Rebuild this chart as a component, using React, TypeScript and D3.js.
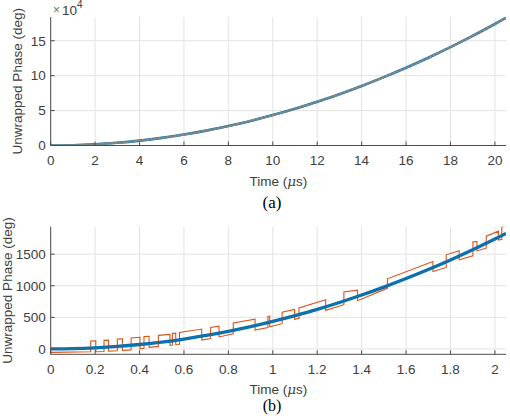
import React from "react";
import * as d3 from "d3";

// ---------- data ----------
const topTimes = [0, 1, 2, 3, 4, 5, 6, 7, 8, 9, 10, 11, 12, 13, 14, 15, 16, 17, 18, 19, 20, 20.5];
const topPhase = [0, 435, 1740, 3915, 6960, 10875, 15660, 21315, 27840, 35235, 43500, 52635, 62640, 73515, 85260, 97875, 111360, 125715, 140940, 157035, 174000, 182800];
const topXTicks = [0, 2, 4, 6, 8, 10, 12, 14, 16, 18, 20];
const topYTicks = [0, 50000, 100000, 150000];
const topYTickLabels = ["0", "5", "10", "15"];

const botTimes = [0, 0.1, 0.2, 0.3, 0.4, 0.5, 0.6, 0.7, 0.8, 0.9, 1.0, 1.1, 1.2, 1.3, 1.4, 1.5, 1.6, 1.7, 1.8, 1.9, 2.0, 2.05];
const botPhase = [0, 4, 17, 39, 70, 109, 157, 213, 278, 352, 435, 526, 626, 735, 853, 979, 1114, 1257, 1409, 1570, 1740, 1828];

const quantTimes = [
  0, 0.18, 0.18, 0.203, 0.203, 0.24, 0.24, 0.26, 0.26, 0.3, 0.3, 0.323, 0.323, 0.362, 0.362, 0.402, 0.402, 0.42,
  0.42, 0.443, 0.443, 0.485, 0.485, 0.537, 0.537, 0.548, 0.548, 0.563, 0.563, 0.58, 0.58, 0.68, 0.68, 0.72,
  0.72, 0.758, 0.758, 0.822, 0.822, 0.92, 0.92, 0.978, 0.978, 0.986, 0.986, 1.042, 1.042, 1.098, 1.098, 1.118,
  1.118, 1.238, 1.238, 1.32, 1.32, 1.381, 1.381, 1.516, 1.516, 1.721, 1.721, 1.781, 1.781, 1.839, 1.839, 1.901,
  1.901, 1.919, 1.919, 1.961, 1.961, 2.016, 2.016, 2.031, 2.031, 2.05,
];
const quantPhase = [
  -55, -45, 125, 128, -45, -40, 136, 140, -35, -30, 155, 160, -25, -15, 173, 184, 5, 10,
  195, 200, 25, 40, 215, 230, 55, 60, 245, 250, 70, 75, 262, 315, 140, 165,
  340, 360, 190, 240, 410, 470, 300, 340, 515, 520, 350, 400, 580, 625, 470, 485,
  650, 780, 610, 700, 900, 930, 762, 960, 1110, 1385, 1224, 1290, 1490, 1555, 1410, 1475,
  1695, 1700, 1555, 1595, 1785, 1865, 1724, 1735, 1930, 1955,
];
const botXTicks = [0, 0.2, 0.4, 0.6, 0.8, 1, 1.2, 1.4, 1.6, 1.8, 2];
const botXTickLabels = ["0", "0.2", "0.4", "0.6", "0.8", "1", "1.2", "1.4", "1.6", "1.8", "2"];
const botYTicks = [0, 500, 1000, 1500];
const botYTickLabels = ["0", "500", "1000", "1500"];

const FONT = "'Liberation Sans', Arial, Helvetica, sans-serif";
const SERIF = "'Liberation Serif', 'Times New Roman', serif";
const TXT = "#404040";
const AX = "#4d4d4d";
const GRID = "#e3e3e3";
const FS = 13.5;

type Pt = [number, number];

function Axes(props: {
  top: number; bottom: number; left: number; right: number;
  xDomain: [number, number]; yDomain: [number, number];
  xTicks: number[]; xLabels: string[]; yTicks: number[]; yLabels: string[];
  id: string; ylabelX: number; children: (x: d3.ScaleLinear<number, number>, y: d3.ScaleLinear<number, number>) => React.ReactNode;
}) {
  const { top, bottom, left, right } = props;
  const x = d3.scaleLinear().domain(props.xDomain).range([left, right]);
  const y = d3.scaleLinear().domain(props.yDomain).range([bottom, top]);
  return (
    <g>
      <defs>
        <clipPath id={props.id}>
          <rect x={left} y={top} width={right - left} height={bottom - top} />
        </clipPath>
      </defs>
      {props.xTicks.map((t, i) => (
        <line key={"gx" + i} x1={x(t)} x2={x(t)} y1={top} y2={bottom} stroke={GRID} strokeWidth={1} />
      ))}
      {props.yTicks.map((t, i) => (
        <line key={"gy" + i} x1={left} x2={right} y1={y(t)} y2={y(t)} stroke={GRID} strokeWidth={1} />
      ))}
      <g clipPath={`url(#${props.id})`}>{props.children(x, y)}</g>
      <line x1={left} x2={right} y1={bottom} y2={bottom} stroke={AX} strokeWidth={1} />
      <line x1={left} x2={left} y1={top} y2={bottom} stroke={AX} strokeWidth={1} />
      {props.xTicks.map((t, i) => (
        <g key={"tx" + i}>
          <line x1={x(t)} x2={x(t)} y1={bottom} y2={bottom - 4} stroke={AX} strokeWidth={1} />
          <text x={x(t)} y={bottom + 19.5} textAnchor="middle" fontFamily={FONT} fontSize={FS} fill={TXT}>
            {props.xLabels[i]}
          </text>
        </g>
      ))}
      {props.yTicks.map((t, i) => (
        <g key={"ty" + i}>
          <line x1={left} x2={left + 4} y1={y(t)} y2={y(t)} stroke={AX} strokeWidth={1} />
          <text x={left - 5} y={y(t) + 4.8} textAnchor="end" fontFamily={FONT} fontSize={FS} fill={TXT}>
            {props.yLabels[i]}
          </text>
        </g>
      ))}
      <text x={(left + right) / 2} y={bottom + 40} textAnchor="middle" fontFamily={FONT} fontSize={FS} fill={TXT}>
        Time (<tspan fontStyle="italic" fontFamily="'DejaVu Serif', serif">μ</tspan>s)
      </text>
      <text
        transform={`translate(${props.ylabelX},${(top + bottom) / 2}) rotate(-90)`}
        textAnchor="middle" fontFamily={FONT} fontSize={FS} fill={TXT}
      >
        Unwrapped Phase (deg)
      </text>
    </g>
  );
}

export default function App() {
  const L = 50.7, R = 506;
  const topPts: Pt[] = topTimes.map((t, i) => [t, topPhase[i]]);
  const botPts: Pt[] = botTimes.map((t, i) => [t, botPhase[i]]);
  const qPts: Pt[] = quantTimes.map((t, i) => [t, quantPhase[i]]);
  return (
    <svg width={510} height={416} style={{ position: "absolute", left: 0, top: 0, background: "#fff" }}>
      <rect width={510} height={416} fill="#fff" />
      <Axes
        id="clipA" top={17} bottom={145.5} left={L} right={R}
        xDomain={[0, 20.5]} yDomain={[0, 184000]}
        xTicks={topXTicks} xLabels={topXTicks.map(String)}
        yTicks={topYTicks} yLabels={topYTickLabels} ylabelX={22}
      >
        {(x, y) => {
          const line = d3.line<Pt>().x((d) => x(d[0])).y((d) => y(d[1])).curve(d3.curveCatmullRom);
          const p = line(topPts) || "";
          return (
            <g fill="none">
              <path d={p} stroke="#0072BD" strokeWidth={2.6} />
              <path d={p} stroke="#7f8f6a" strokeWidth={2.2} strokeDasharray="2 2" />
              <path d={p} stroke="#8a8a8a" strokeWidth={1.8} opacity={0.75} />
            </g>
          );
        }}
      </Axes>
      <text x={53} y={14} fontFamily={FONT} fontSize={12} fill="#707070">×</text>
      <text x={62} y={15} fontFamily={FONT} fontSize={FS} fill={TXT}>
        10<tspan dy={-7} fontSize={10}>4</tspan>
      </text>
      <text x={272} y={208} textAnchor="middle" fontFamily={SERIF} fontSize={17} fill="#000">
        (a)
      </text>

      <Axes
        id="clipB" top={226.7} bottom={354.3} left={L} right={R}
        xDomain={[0, 2.05]} yDomain={[-85, 1935]}
        xTicks={botXTicks} xLabels={botXTickLabels}
        yTicks={botYTicks} yLabels={botYTickLabels} ylabelX={12}
      >
        {(x, y) => {
          const blue = d3.line<Pt>().x((d) => x(d[0])).y((d) => y(d[1])).curve(d3.curveCatmullRom);
          const q = d3.line<Pt>().x((d) => x(d[0])).y((d) => y(d[1]));
          const pb = blue(botPts) || "";
          return (
            <g fill="none">
              <path d={q(qPts) || ""} stroke="#D95319" strokeWidth={1.1} />
              <path d={pb} stroke="#0072BD" strokeWidth={3.3} />
              <path d={pb} stroke="#2a6d86" strokeWidth={1.2} opacity={0.8} />
            </g>
          );
        }}
      </Axes>
      <text x={272} y={411} textAnchor="middle" fontFamily={SERIF} fontSize={16} fill="#000">
        (b)
      </text>
    </svg>
  );
}
